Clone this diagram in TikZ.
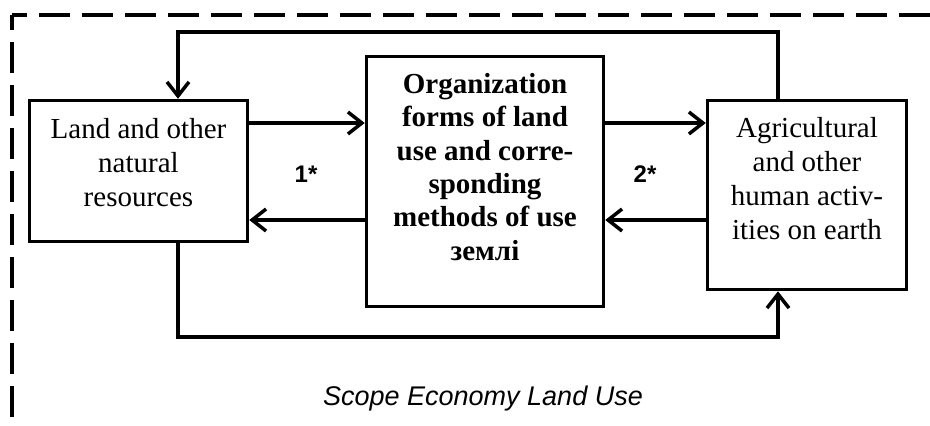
\documentclass[tikz,border=0pt]{standalone}
\usepackage{fontspec}
\setmainfont{Liberation Serif}
\setsansfont{Liberation Sans}
\usetikzlibrary{arrows.meta}
\begin{document}
\begin{tikzpicture}[x=1pt,y=-1pt,
  box/.style={draw,line width=3.5pt,inner sep=0pt,rectangle},
  boxtext/.style={align=center,inner sep=0pt,anchor=north},
  arr/.style={line width=3.5pt,-{Straight Barb[length=14pt,width=22pt]}},
  frame/.style={line width=3.5pt,dash pattern=on 31pt off 12pt},
  starlabel/.style={font=\sffamily\bfseries\fontsize{24}{28}\selectfont,anchor=base}]
\useasboundingbox (0,0) rectangle (930,426);
% dashed frame
\coordinate (corner) at (12,15);
\coordinate (fr) at (935,15);
\coordinate (fb) at (12,430);
\draw[frame,dash phase=16pt] (corner) -- (fr);
\draw[frame,dash phase=16pt] (corner) -- (fb);
% boxes
\node[box,minimum width=218pt,minimum height=141pt] (L) at (138.5,171) {};
\node[box,minimum width=237pt,minimum height=250pt] (M) at (485,181.5) {};
\node[box,minimum width=199pt,minimum height=189pt] (R) at (807,195) {};
% texts
\node[boxtext,font=\fontsize{29}{34}\selectfont] (Lt) at (138.5,118) {Land and other\\natural\\resources};
\node[boxtext,font=\bfseries\fontsize{29}{33.4}\selectfont] (Mt) at (485,73) {Organization\\forms of land\\use and corre-\\sponding\\methods of use\\землі};
\node[boxtext,font=\fontsize{29}{34.2}\selectfont] (Rt) at (807,117) {Agricultural\\and other\\human activ-\\ities on earth};
\node[starlabel] (m1) at (306,182) {1*};
\node[starlabel] (m2) at (645,182) {2*};
\node[font=\sffamily\itshape\fontsize{27}{32}\selectfont,anchor=base] (cap) at (483,405) {Scope Economy Land Use};
% connectors
\draw[arr] ([yshift=48pt]L.east) -- ([yshift=58.5pt]M.west);
\draw[arr] ([yshift=-38.5pt]M.west) -- ([yshift=-49pt]L.east);
\draw[arr] ([yshift=58.5pt]M.east) -- ([yshift=72pt]R.west);
\draw[arr] ([yshift=-25pt]R.west) -- ([yshift=-38.5pt]M.east);
\coordinate (top) at (0,32);
\coordinate (bot) at (0,337);
\draw[arr] ([xshift=-29pt]R.north) -- ([xshift=-29pt]R.north |- top) -| ([xshift=39.5pt]L.north);
\draw[arr] ([xshift=39.5pt]L.south) -- ([xshift=39.5pt]L.south |- bot) -| ([xshift=-29pt]R.south);
\end{tikzpicture}
\end{document}
